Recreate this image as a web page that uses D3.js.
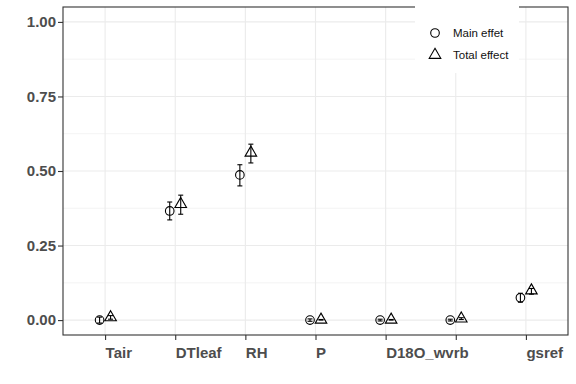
<!DOCTYPE html>
<html>
<head>
<meta charset="utf-8">
<script src="https://cdn.jsdelivr.net/npm/d3@7"></script>
<style>
  body { margin: 0; background: #fff; }
  svg { display: block; font-family: "Liberation Sans", Arial, sans-serif; }
</style>
</head>
<body>
<script>
// ---- data ----
var categories  = ["Tair", "DTleaf", "RH", "P", "D18O_wvrb", "V6", "gsref"];
var tickLabels  = ["Tair", "DTleaf", "RH", "P", "D18O_wvrb", "", "gsref"];
var mainEffect  = [0.000, 0.366, 0.487, 0.000, 0.000, 0.000, 0.075];
var mainLow     = [-0.010, 0.336, 0.450, -0.004, -0.003, -0.003, 0.060];
var mainHigh    = [0.010, 0.396, 0.521, 0.004, 0.003, 0.003, 0.090];
var totalEffect = [0.009, 0.389, 0.561, 0.001, 0.001, 0.005, 0.099];
var totalLow    = [0.003, 0.355, 0.527, 0.000, 0.000, 0.002, 0.087];
var totalHigh   = [0.015, 0.419, 0.590, 0.002, 0.002, 0.008, 0.106];
var yTicks = [0, 0.25, 0.5, 0.75, 1];
var yMinor = [0.125, 0.375, 0.625, 0.875];
var legendLabels = ["Main effet", "Total effect"];

// ---- layout ----
var W = 576, H = 384;
var margin = {top: 7, right: 8, bottom: 49, left: 63};
var width = W - margin.left - margin.right;
var height = H - margin.top - margin.bottom;
var dodge = 5.5;
var r = 4.3;

var svg = d3.select("body").append("svg")
  .attr("width", W).attr("height", H);

var g = svg.append("g")
  .attr("transform", "translate(" + margin.left + "," + margin.top + ")");

var x = d3.scalePoint()
  .domain(categories)
  .range([0, width])
  .padding(0.6);

var y = d3.scaleLinear()
  .domain([-0.05, 1.05])
  .range([height, 0]);

// grid
g.selectAll(".minor").data(yMinor).enter().append("line")
  .attr("x1", 0).attr("x2", width)
  .attr("y1", d => y(d)).attr("y2", d => y(d))
  .attr("stroke", "#ebebeb").attr("stroke-width", 0.6);
g.selectAll(".hmajor").data(yTicks).enter().append("line")
  .attr("x1", 0).attr("x2", width)
  .attr("y1", d => y(d)).attr("y2", d => y(d))
  .attr("stroke", "#ebebeb").attr("stroke-width", 1.1);
g.selectAll(".vmajor").data(categories).enter().append("line")
  .attr("x1", d => x(d)).attr("x2", d => x(d))
  .attr("y1", 0).attr("y2", height)
  .attr("stroke", "#ebebeb").attr("stroke-width", 1.1);

// axes
var yAxis = g.append("g")
  .call(d3.axisLeft(y).tickValues(yTicks).tickFormat(d3.format(".2f")).tickSize(5).tickPadding(2));
var xAxis = g.append("g")
  .attr("transform", "translate(0," + height + ")")
  .call(d3.axisBottom(x).tickSize(5).tickPadding(7).tickFormat((d, i) => tickLabels[i]));

[xAxis, yAxis].forEach(function(a) {
  a.select(".domain").remove();
  a.selectAll(".tick line").attr("stroke", "#333").attr("stroke-width", 1.1);
  a.selectAll("text").attr("fill", "#4d4d4d").style("font-size", "15px").style("font-weight", "bold");
});
xAxis.selectAll("text").attr("text-anchor", "start");

// error bars
function errorbars(cls, lo, hi, off) {
  var eb = g.selectAll("." + cls).data(categories).enter().append("g")
    .attr("class", cls)
    .attr("stroke", "#000").attr("stroke-width", 1.1).attr("fill", "none");
  eb.append("line")
    .attr("x1", d => x(d) + off).attr("x2", d => x(d) + off)
    .attr("y1", (d, i) => y(lo[i])).attr("y2", (d, i) => y(hi[i]));
  eb.append("line")
    .attr("x1", d => x(d) + off - 2.5).attr("x2", d => x(d) + off + 2.5)
    .attr("y1", (d, i) => y(lo[i])).attr("y2", (d, i) => y(lo[i]));
  eb.append("line")
    .attr("x1", d => x(d) + off - 2.5).attr("x2", d => x(d) + off + 2.5)
    .attr("y1", (d, i) => y(hi[i])).attr("y2", (d, i) => y(hi[i]));
}
errorbars("ebMain", mainLow, mainHigh, -dodge);
errorbars("ebTotal", totalLow, totalHigh, dodge);

// triangle path centred on its centroid (like R pch 2)
function triangle(cx, cy, rr) {
  var t0 = 1.555 * rr, t1 = 1.347 * rr, t2 = 0.778 * rr;
  return "M" + cx + "," + (cy - t0) + "L" + (cx + t1) + "," + (cy + t2) +
         "L" + (cx - t1) + "," + (cy + t2) + "Z";
}

// points
g.selectAll(".main").data(categories).enter().append("circle")
  .attr("cx", d => x(d) - dodge)
  .attr("cy", (d, i) => y(mainEffect[i]))
  .attr("r", r)
  .attr("fill", "none").attr("stroke", "#000").attr("stroke-width", 1.1);

g.selectAll(".total").data(categories).enter().append("path")
  .attr("d", (d, i) => triangle(x(d) + dodge, y(totalEffect[i]), r))
  .attr("fill", "none").attr("stroke", "#000").attr("stroke-width", 1.1);

// panel border
g.append("rect")
  .attr("width", width).attr("height", height)
  .attr("fill", "none").attr("stroke", "#333").attr("stroke-width", 1.1);

// legend
var legend = svg.append("g").attr("transform", "translate(415,0)");
legend.append("rect")
  .attr("width", 104).attr("height", 73).attr("fill", "#fff");
legend.append("circle")
  .attr("cx", 20).attr("cy", 33).attr("r", r)
  .attr("fill", "none").attr("stroke", "#000").attr("stroke-width", 1.1);
legend.append("path")
  .attr("d", triangle(20, 55, r))
  .attr("fill", "none").attr("stroke", "#000").attr("stroke-width", 1.1);
legend.selectAll(".lab").data(legendLabels).enter().append("text")
  .attr("x", 38)
  .attr("y", (d, i) => 33 + i * 22)
  .attr("dy", "0.35em")
  .style("font-size", "11.5px")
  .attr("fill", "#111")
  .text(d => d);
</script>
</body>
</html>
